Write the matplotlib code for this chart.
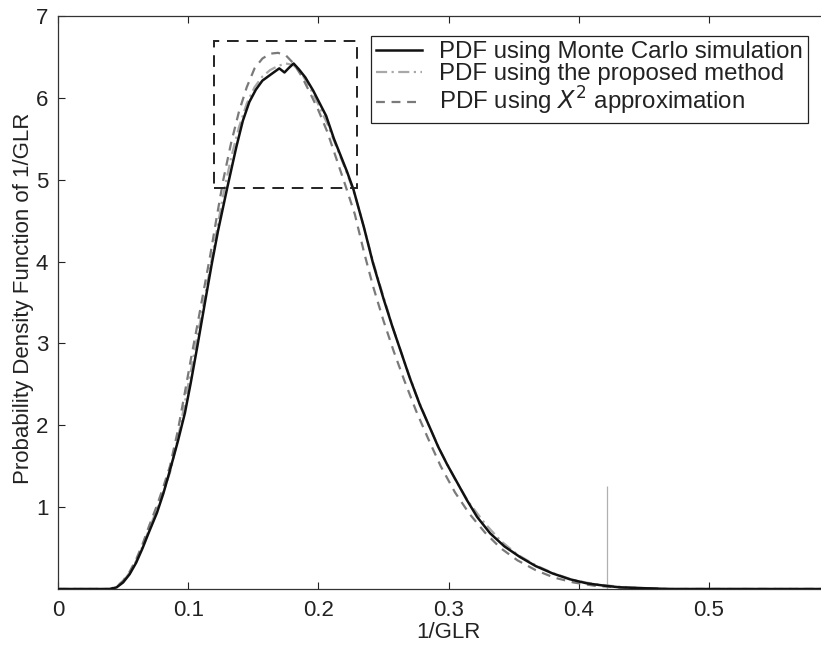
import matplotlib
matplotlib.use("Agg")
import matplotlib.pyplot as plt
from matplotlib.patches import Rectangle

plt.rcParams['font.family'] = ['Liberation Sans', 'DejaVu Sans']

# ---- data ----
mc_x = [0.000, 0.040, 0.045, 0.050, 0.055, 0.060, 0.065, 0.070, 0.076, 0.081,
        0.086, 0.092, 0.0975, 0.102, 0.107, 0.114, 0.118, 0.123, 0.130, 0.137,
        0.142, 0.147, 0.152, 0.157, 0.163, 0.170, 0.174, 0.177, 0.181, 0.185,
        0.190, 0.196, 0.206, 0.212, 0.217, 0.222, 0.227, 0.235, 0.242, 0.250,
        0.257, 0.263, 0.270, 0.278, 0.286, 0.292, 0.299, 0.306, 0.314, 0.322,
        0.332, 0.343, 0.355, 0.367, 0.380, 0.393, 0.406, 0.420, 0.432, 0.450,
        0.470, 0.600]
mc_y = [0.00, 0.00, 0.02, 0.08, 0.18, 0.32, 0.50, 0.70, 0.93, 1.17,
        1.45, 1.80, 2.15, 2.52, 2.96, 3.60, 3.96, 4.38, 4.90, 5.40,
        5.72, 5.95, 6.10, 6.21, 6.28, 6.36, 6.31, 6.36, 6.42, 6.35,
        6.25, 6.09, 5.78, 5.50, 5.30, 5.10, 4.88, 4.42, 3.98, 3.55,
        3.20, 2.92, 2.59, 2.25, 1.96, 1.74, 1.52, 1.32, 1.09, 0.88,
        0.68, 0.52, 0.39, 0.28, 0.19, 0.12, 0.07, 0.04, 0.02, 0.01,
        0.00, 0.00]

prop_x = [0.000, 0.040, 0.045, 0.050, 0.055, 0.060, 0.065, 0.070, 0.076, 0.081,
          0.086, 0.092, 0.097, 0.102, 0.107, 0.112, 0.117, 0.122, 0.127, 0.133,
          0.139, 0.145, 0.151, 0.157, 0.163, 0.169, 0.175, 0.181, 0.187, 0.193,
          0.200, 0.207, 0.214, 0.221, 0.228, 0.235, 0.242, 0.250, 0.258, 0.266,
          0.275, 0.284, 0.294, 0.305, 0.316, 0.328, 0.340, 0.353, 0.367, 0.381,
          0.396, 0.412, 0.430, 0.450, 0.470, 0.600]
prop_y = [0.00, 0.00, 0.03, 0.09, 0.20, 0.34, 0.52, 0.73, 0.98, 1.19,
          1.42, 1.83, 2.24, 2.66, 3.08, 3.50, 3.93, 4.38, 4.82, 5.27,
          5.64, 5.93, 6.13, 6.26, 6.34, 6.39, 6.42, 6.40, 6.30, 6.14,
          5.92, 5.68, 5.40, 5.12, 4.82, 4.42, 4.00, 3.57, 3.16, 2.78,
          2.38, 2.03, 1.68, 1.34, 1.05, 0.80, 0.59, 0.42, 0.29, 0.19,
          0.11, 0.06, 0.03, 0.01, 0.00, 0.00]

chi_x = [0.000, 0.040, 0.045, 0.050, 0.055, 0.060, 0.065, 0.070, 0.076, 0.081,
         0.086, 0.092, 0.097, 0.102, 0.107, 0.112, 0.117, 0.122, 0.127, 0.133,
         0.139, 0.145, 0.151, 0.157, 0.163, 0.169, 0.175, 0.181, 0.187, 0.193,
         0.200, 0.207, 0.214, 0.221, 0.228, 0.235, 0.242, 0.250, 0.258, 0.266,
         0.275, 0.284, 0.294, 0.305, 0.316, 0.328, 0.340, 0.353, 0.367, 0.381,
         0.396, 0.412, 0.430, 0.450, 0.470, 0.600]
chi_y = [0.00, 0.00, 0.03, 0.10, 0.21, 0.36, 0.55, 0.77, 1.02, 1.25,
         1.50, 1.93, 2.36, 2.80, 3.22, 3.65, 4.08, 4.55, 5.00, 5.45,
         5.83, 6.13, 6.36, 6.48, 6.54, 6.55, 6.52, 6.42, 6.27, 6.08,
         5.85, 5.58, 5.25, 4.92, 4.58, 4.12, 3.70, 3.28, 2.90, 2.55,
         2.18, 1.85, 1.50, 1.18, 0.92, 0.69, 0.50, 0.35, 0.23, 0.14,
         0.08, 0.04, 0.02, 0.01, 0.00, 0.00]

labels = ['PDF using Monte Carlo simulation',
          'PDF using the proposed method',
          r'PDF using $\mathit{X}^2$ approximation']

x_ticks = [0, 0.1, 0.2, 0.3, 0.4, 0.5, 0.6]
x_ticklabels = ['0', '0.1', '0.2', '0.3', '0.4', '0.5', '']
y_ticks = [1, 2, 3, 4, 5, 6, 7]
y_ticklabels = ['1', '2', '3', '4', '5', '6', '7']

zoom_box = (0.12, 0.23, 4.9, 6.7)   # x0, x1, y0, y1
stray_line = (0.4217, 1.26)         # x, height

# ---- figure ----
W, H = 821, 645
fig = plt.figure(figsize=(W / 100, H / 100), dpi=100)
left, right, top, bottom = 58, 839, 16, 589
ax = fig.add_axes([left / W, (H - bottom) / H, (right - left) / W, (bottom - top) / H])

fs = 16
ax.plot(mc_x, mc_y, color='#111111', lw=1.8, solid_joinstyle='round', zorder=4, label=labels[0])
ax.plot(prop_x, prop_y, color='#a8a8a8', lw=1.6, linestyle=(0, (5, 2, 1, 2)), zorder=3, label=labels[1])
ax.plot(chi_x, chi_y, color='#7a7a7a', lw=1.6, linestyle=(0, (4, 3)), zorder=3, label=labels[2])

x0, x1, y0, y1 = zoom_box
ax.add_patch(Rectangle((x0, y0), x1 - x0, y1 - y0, fill=False, edgecolor='#222222',
                       lw=1.4, linestyle=(0, (6, 4)), zorder=5))
ax.vlines(stray_line[0], 0, stray_line[1], color='#b0b0b0', lw=0.9, zorder=2)

ax.set_xlim(0, 0.6)
ax.set_ylim(0, 7)
ax.set_xticks(x_ticks)
ax.set_xticklabels(x_ticklabels, fontsize=fs)
ax.set_yticks(y_ticks)
ax.set_yticklabels(y_ticklabels, fontsize=fs)
ax.tick_params(direction='in', length=5, width=0.8, top=True, right=True, pad=7, colors='#222222')
ax.tick_params(axis='x', pad=8)
for s in ax.spines.values():
    s.set_linewidth(0.9)
    s.set_color('#333333')

ax.set_xlabel('1/GLR', fontsize=fs, labelpad=1, color='#222222')
ax.set_ylabel('Probability Density Function of 1/GLR', fontsize=fs, labelpad=0, color='#222222')
ax.yaxis.set_label_coords(24 / W, 1 - 298 / H, transform=fig.transFigure)
ax.yaxis.label.set_va('center')

leg = ax.legend(loc='upper left', bbox_to_anchor=(371 / W, 1 - 36 / H), bbox_transform=fig.transFigure,
                fontsize=17.3, frameon=True, fancybox=False, framealpha=1, edgecolor='#222222',
                borderaxespad=0, borderpad=0.22, labelspacing=0.0, handlelength=1.9,
                handletextpad=0.7)
leg.get_frame().set_linewidth(0.9)
for t in leg.get_texts():
    t.set_color('#222222')

fig.savefig('out.png', dpi=100)
